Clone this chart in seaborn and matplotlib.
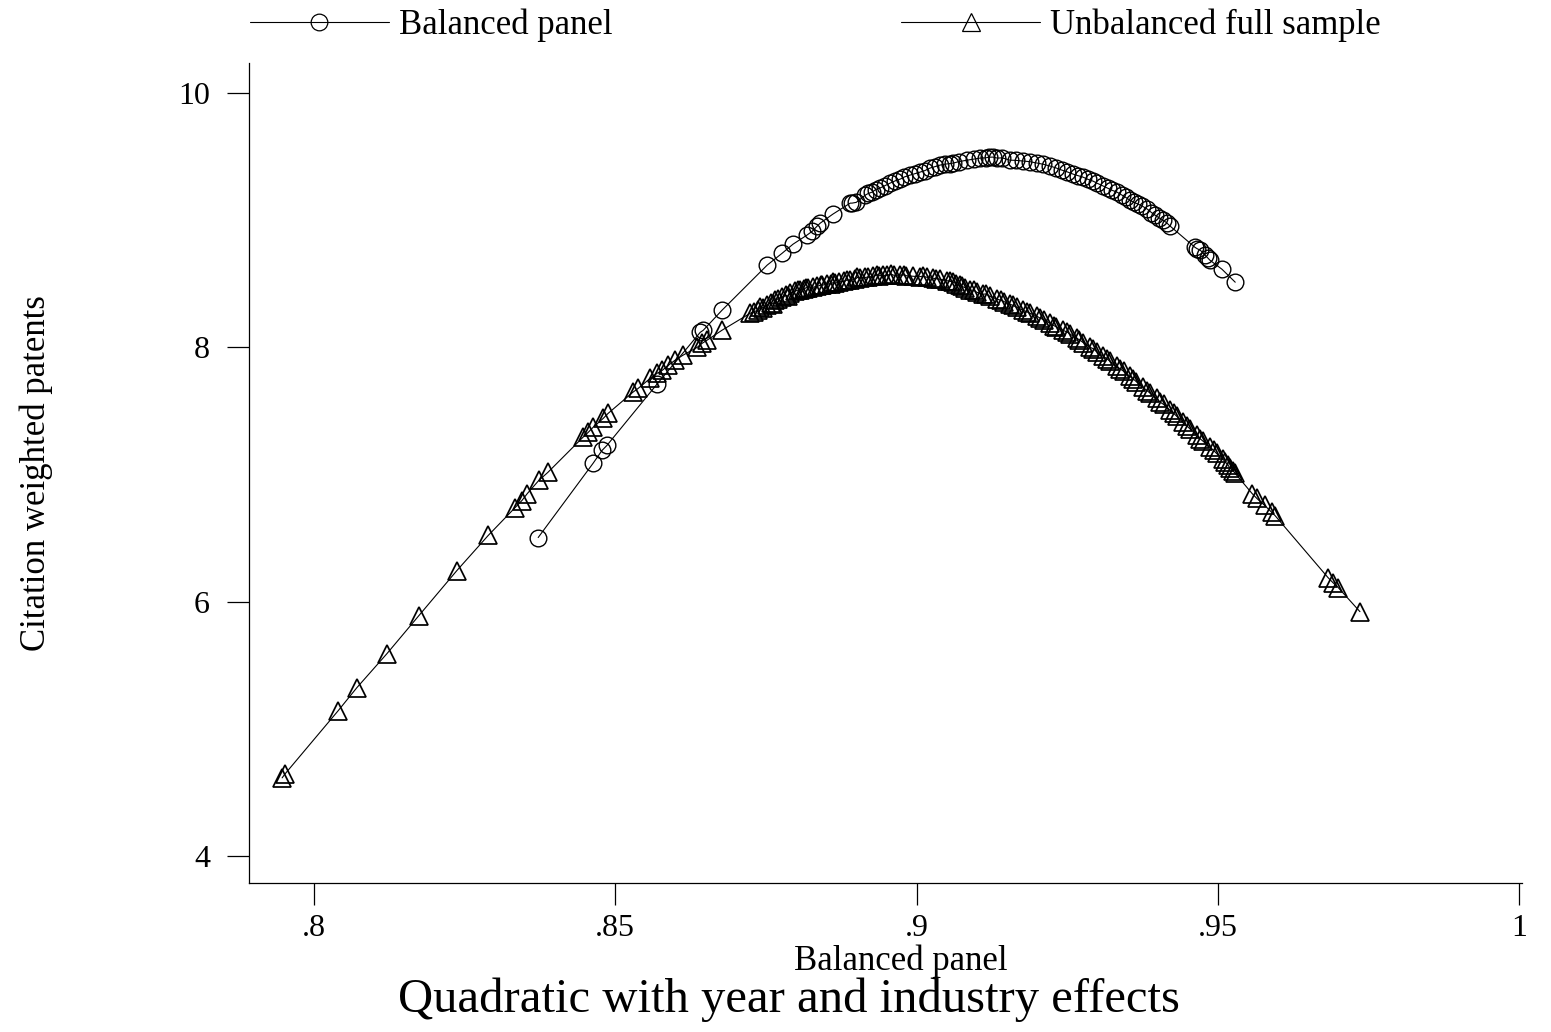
import matplotlib
matplotlib.use("Agg")
import matplotlib.pyplot as plt
import numpy as np
import pandas as pd
import seaborn as sns

# balanced panel (circles)
bal_x = [.8372, .8463, .8478, .8486, .8569, .8641, .8646, .8677, .8752, .8777,
         .8795, .8818, .8827, .8835, .8840, .8861, .8890, .8893, .8915, .8926,
         .8939, .8956, .8973, .8989, .9006, .9022, .9039, .9061, .9084, .9105,
         .9127, .9134, .9155, .9177, .9200, .9222, .9241, .9260, .9276, .9293,
         .9310, .9324, .9341, .9354, .9368, .9383, .9396, .9409, .9421, .9462,
         .9471, .9479, .9487, .9507, .9529]
bal_y = [6.504, 7.087, 7.189, 7.228, 7.709, 8.118, 8.134, 8.291, 8.646, 8.740,
         8.811, 8.882, 8.913, 8.953, 8.976, 9.047, 9.134, 9.134, 9.197, 9.220,
         9.252, 9.291, 9.323, 9.354, 9.378, 9.409, 9.433, 9.449, 9.472, 9.488,
         9.496, 9.488, 9.472, 9.465, 9.449, 9.425, 9.394, 9.362, 9.339, 9.307,
         9.268, 9.236, 9.197, 9.157, 9.126, 9.087, 9.039, 9.000, 8.953, 8.787,
         8.764, 8.724, 8.685, 8.614, 8.512]
# more circles in the crowded stretch near the top
bal_x2 = [.8900, .8920, .8932, .8947, .8965, .8980, .8997, .9014, .9030, .9047,
          .9055, .9070, .9095, .9115, .9120, .9142, .9165, .9188, .9210, .9232,
          .9250, .9268, .9285, .9300, .9318, .9333, .9347, .9361, .9375, .9390,
          .9402, .9415, .9466, .9483]
bal_y2 = [9.14, 9.21, 9.24, 9.27, 9.31, 9.34, 9.365, 9.39, 9.42, 9.44,
          9.445, 9.46, 9.48, 9.49, 9.495, 9.49, 9.47, 9.46, 9.44, 9.41,
          9.38, 9.35, 9.32, 9.29, 9.25, 9.22, 9.18, 9.14, 9.11, 9.06,
          9.02, 8.98, 8.775, 8.705]

# unbalanced full sample (triangles)
unb_x = [.7947, .7952, .8040, .8071, .8121, .8174, .8237, .8289, .8334, .8345,
         .8354, .8373, .8388, .8446, .8455, .8463, .8480, .8488, .8529, .8538,
         .8558, .8569, .8578, .8588, .8599, .8612, .8636, .8644, .8652, .8677,
         .8724, .8737, .8752, .8765, .8777, .8790, .8807, .8820, .8835, .8851,
         .8865, .8890, .8906, .8928, .8951, .8973, .8994, .9017, .9039, .9061,
         .9072, .9089, .9110, .9134, .9155, .9177, .9200, .9222, .9243, .9266,
         .9288, .9310, .9333, .9354, .9376, .9399, .9421, .9442, .9466, .9487,
         .9509, .9525, .9529, .9557, .9565, .9578, .9590, .9595, .9683, .9691,
         .9700, .9736]
unb_y = [4.614, 4.646, 5.142, 5.323, 5.591, 5.890, 6.244, 6.520, 6.740, 6.795,
         6.850, 6.953, 7.016, 7.291, 7.331, 7.370, 7.441, 7.480, 7.646, 7.677,
         7.756, 7.795, 7.819, 7.858, 7.898, 7.937, 8.000, 8.031, 8.055, 8.134,
         8.268, 8.291, 8.331, 8.370, 8.394, 8.425, 8.449, 8.465, 8.480, 8.496,
         8.504, 8.528, 8.543, 8.559, 8.567, 8.567, 8.559, 8.551, 8.535, 8.512,
         8.488, 8.449, 8.417, 8.378, 8.339, 8.291, 8.244, 8.189, 8.134, 8.071,
         8.000, 7.929, 7.850, 7.772, 7.685, 7.598, 7.504, 7.409, 7.307, 7.213,
         7.118, 7.031, 7.008, 6.850, 6.811, 6.756, 6.701, 6.677, 6.189, 6.150,
         6.110, 5.921]
# the solid band of triangles between about .872 and .952
unb_x2 = [.8730, .8745, .8758, .8770, .8783, .8798, .8813, .8828, .8843, .8858,
          .8872, .8880, .8898, .8915, .8920, .8938, .8945, .8962, .8983, .9005,
          .9028, .9050, .9066, .9080, .9100, .9122, .9145, .9166, .9188, .9211,
          .9232, .9255, .9277, .9299, .9321, .9344, .9365, .9387, .9410, .9432,
          .9454, .9476, .9498, .9517,
          .8741, .8762, .8786, .8803, .8817, .8842, .8862, .8885, .8902, .8935,
          .8958, .8980, .9010, .9033, .9055, .9075, .9095, .9115, .9140, .9160,
          .9183, .9205, .9228, .9250, .9270, .9293, .9316, .9338, .9360, .9382,
          .9404, .9427, .9449, .9471, .9493, .9512, .9520]
unb_y2 = [8.28, 8.31, 8.35, 8.38, 8.41, 8.44, 8.457, 8.472, 8.488, 8.50,
          8.515, 8.52, 8.535, 8.55, 8.552, 8.563, 8.565, 8.567, 8.563, 8.555,
          8.543, 8.524, 8.50, 8.47, 8.433, 8.40, 8.36, 8.315, 8.268, 8.217,
          8.162, 8.103, 8.036, 7.965, 7.890, 7.811, 7.729, 7.642, 7.551, 7.457,
          7.358, 7.260, 7.165, 7.075,
          8.32, 8.34, 8.40, 8.45, 8.47, 8.49, 8.51, 8.53, 8.55, 8.57,
          8.575, 8.57, 8.56, 8.54, 8.52, 8.48, 8.45, 8.42, 8.37, 8.33,
          8.28, 8.23, 8.17, 8.12, 8.06, 7.99, 7.91, 7.83, 7.75, 7.66,
          7.57, 7.48, 7.38, 7.28, 7.19, 7.10, 7.05]

x_ticks = [.8, .85, .9, .95, 1]
x_ticklabels = ['.8', '.85', '.9', '.95', '1']
y_ticks = [4, 6, 8, 10]

sns.set_style('white')
plt.rcParams['font.family'] = ['Liberation Serif', 'DejaVu Serif']
plt.rcParams['text.color'] = 'black'
plt.rcParams['axes.labelcolor'] = 'black'
plt.rcParams['xtick.color'] = 'black'
plt.rcParams['ytick.color'] = 'black'

fig = plt.figure(figsize=(15.51, 10.32), dpi=100)
ax = fig.add_axes([249/1551, 1-883/1032, (1522-249)/1551, (883-63)/1032])

dfB = pd.DataFrame({'x': bal_x + bal_x2, 'y': bal_y + bal_y2}).sort_values('x')
dfU = pd.DataFrame({'x': unb_x + unb_x2, 'y': unb_y + unb_y2}).sort_values('x')
sns.lineplot(data=dfB, x='x', y='y', ax=ax, color='black', lw=0.8, marker='o',
             markersize=12, markerfacecolor='none', markeredgecolor='black',
             markeredgewidth=1.0, estimator=None, label='Balanced panel')
sns.lineplot(data=dfU, x='x', y='y', ax=ax, color='black', lw=0.8, marker='^',
             markersize=13, markerfacecolor='none', markeredgecolor='black',
             markeredgewidth=1.25, estimator=None, label='Unbalanced full sample')

ax.set_xlim(0.7892, 1.0005)
ax.set_ylim(3.787, 10.236)
ax.set_xticks(x_ticks)
ax.set_xticklabels(x_ticklabels)
ax.set_yticks(y_ticks)
ax.tick_params(axis='both', direction='out', length=16, width=0.9, color='black',
               labelsize=23, labelcolor='black', bottom=True, left=True)
ax.tick_params(axis='x', pad=6)
ax.tick_params(axis='y', pad=12)
sns.despine(ax=ax)
for s in ['left', 'bottom']:
    ax.spines[s].set_color('black')
    ax.spines[s].set_linewidth(0.9)

ax.set_xlabel('Balanced panel', fontsize=25)
ax.xaxis.set_label_coords((901-249)/(1522-249), -0.075)
ax.set_ylabel('Citation weighted patents', fontsize=25)
ax.yaxis.set_label_coords((53-249)/(1522-249), 0.5)

leg = ax.legend(loc='center left', bbox_to_anchor=(250/1551, 1-25/1032),
                bbox_transform=fig.transFigure, ncol=2, frameon=False, fontsize=25,
                handlelength=4.0, handletextpad=0.3, columnspacing=8.3, borderpad=0,
                borderaxespad=0)
for h in leg.legend_handles:
    h.set_markeredgewidth(0.9)

fig.text(789/1551, 1-1000/1032, 'Quadratic with year and industry effects',
         fontsize=35, ha='center', va='center')

fig.savefig('out.png', dpi=100)
